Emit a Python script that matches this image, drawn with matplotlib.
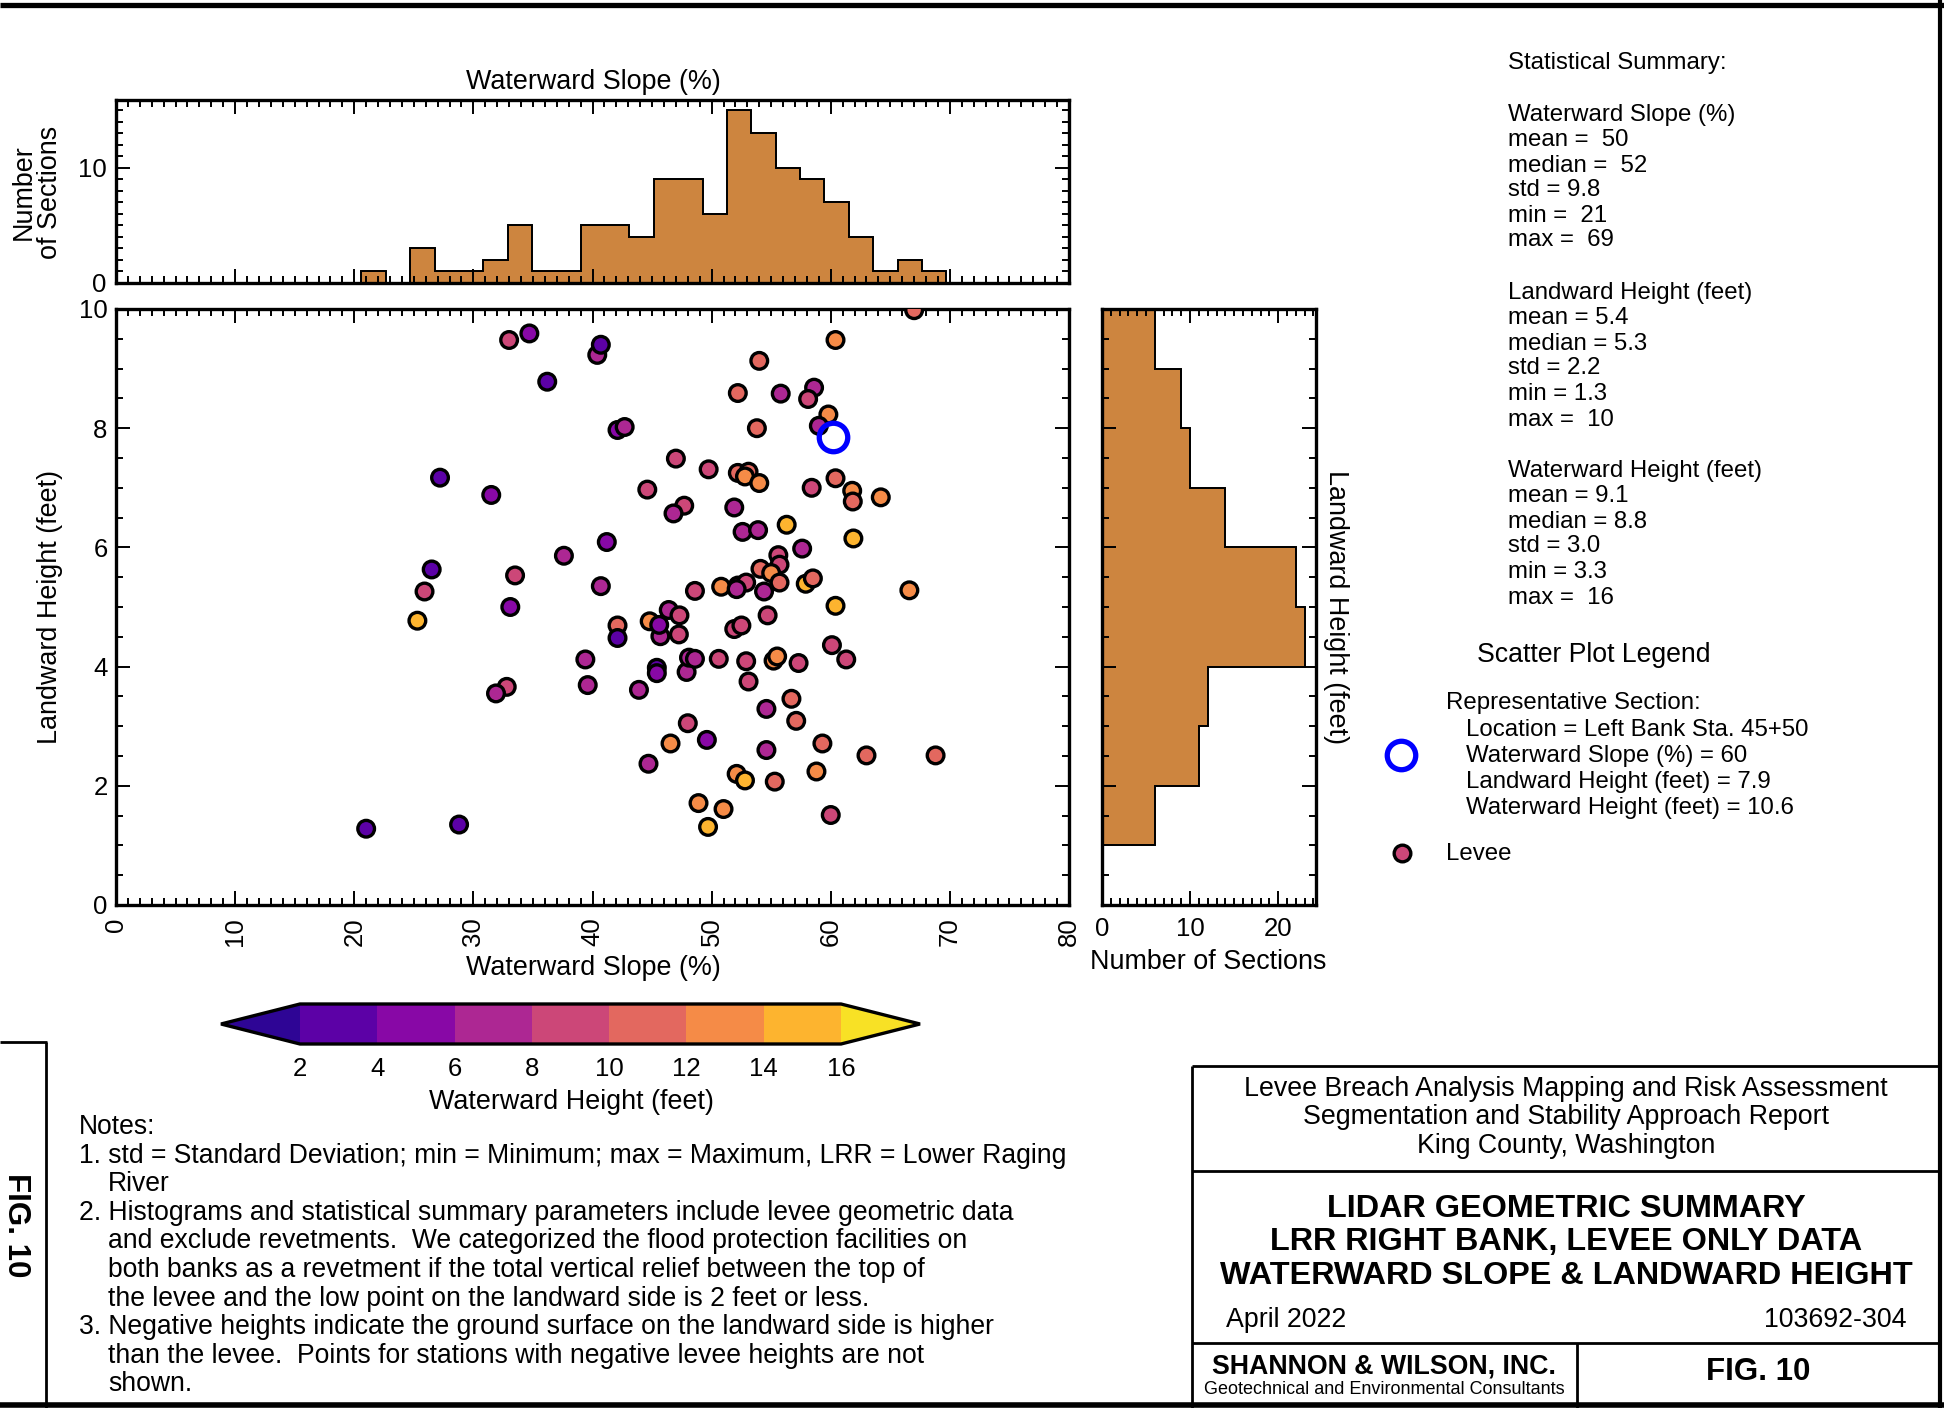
import numpy as np
import matplotlib
matplotlib.use("Agg")
import matplotlib.pyplot as plt
from matplotlib.colors import ListedColormap, BoundaryNorm
from matplotlib.ticker import MultipleLocator

plt.rcParams['font.family'] = ['Liberation Sans', 'DejaVu Sans']

# ---- scatter data: waterward slope (%), landward height (ft), waterward height (ft)
slope = [33.0, 34.7, 40.4, 40.7, 36.2, 42.1, 42.7, 27.2, 31.5, 44.6,
         41.2, 37.6, 26.5, 33.5, 25.9, 40.7, 33.1, 25.3, 42.1, 42.1,
         44.8, 39.4, 32.8, 31.9, 39.6, 43.9, 44.7, 21.0, 28.8, 67.0,
         60.4, 54.0, 52.2, 55.8, 58.6, 58.1, 59.8, 59.0, 53.8, 47.0,
         49.75, 52.2, 53.1, 52.8, 54.0, 60.4, 58.4, 61.8, 61.85, 64.2,
         47.7, 46.8, 51.9, 56.3, 52.6, 53.9, 61.9, 57.6, 55.6, 55.7,
         54.1, 55.0, 48.6, 50.8, 52.2, 52.9, 52.1, 54.4, 55.7, 57.9,
         58.5, 66.6, 60.4, 54.7, 46.4, 47.3, 45.7, 47.25, 45.6, 51.9,
         52.5, 60.1, 61.3, 45.4, 45.4, 47.9, 48.1, 48.6, 50.6, 52.9,
         53.1, 55.2, 55.5, 57.3, 54.6, 56.7, 57.1, 48.0, 49.6, 46.55,
         54.6, 59.3, 63.0, 68.8, 52.1, 52.8, 55.3, 58.8, 48.9, 51.0,
         49.7, 60.0]
land_height = [9.48, 9.59, 9.23, 9.40, 8.78, 7.97, 8.02, 7.17, 6.88, 6.97,
               6.09, 5.86, 5.63, 5.53, 5.26, 5.35, 5.00, 4.77, 4.69, 4.48,
               4.76, 4.12, 3.66, 3.55, 3.69, 3.61, 2.37, 1.28, 1.35, 9.98,
               9.48, 9.13, 8.59, 8.58, 8.68, 8.49, 8.23, 8.04, 8.00, 7.49,
               7.31, 7.25, 7.27, 7.19, 7.08, 7.16, 7.00, 6.95, 6.77, 6.84,
               6.70, 6.57, 6.67, 6.38, 6.26, 6.29, 6.15, 5.98, 5.87, 5.71,
               5.64, 5.57, 5.27, 5.34, 5.36, 5.41, 5.30, 5.26, 5.41, 5.39,
               5.48, 5.28, 5.02, 4.86, 4.95, 4.86, 4.51, 4.54, 4.70, 4.63,
               4.69, 4.36, 4.12, 3.98, 3.89, 3.91, 4.15, 4.13, 4.13, 4.09,
               3.75, 4.10, 4.17, 4.06, 3.29, 3.46, 3.09, 3.05, 2.77, 2.71,
               2.60, 2.71, 2.51, 2.51, 2.20, 2.09, 2.07, 2.24, 1.71, 1.61,
               1.31, 1.51]
water_height = [9, 5, 7, 3, 3, 5, 7, 3, 5, 9,
                5, 7, 3, 9, 9, 7, 5, 15, 11, 3,
                13, 7, 9, 7, 7, 7, 7, 3, 3, 11,
                13, 11, 11, 7, 7, 9, 13, 7, 11, 9,
                9, 11, 11, 13, 13, 11, 9, 13, 11, 13,
                9, 7, 7, 15, 7, 7, 15, 7, 9, 9,
                11, 13, 9, 13, 7, 9, 7, 7, 11, 15,
                11, 13, 15, 9, 7, 9, 7, 9, 5, 9,
                9, 9, 9, 3, 5, 7, 7, 7, 9, 9,
                9, 13, 13, 9, 7, 11, 11, 9, 5, 13,
                7, 11, 11, 11, 13, 15, 11, 13, 13, 13,
                15, 9]

# representative section
rep_slope = 60.2
rep_land = 7.86

# histograms
slope_counts = [1, 0, 3, 1, 1, 2, 5, 1, 1, 5, 5, 4, 9, 9, 6, 15, 13, 10, 9, 7, 4, 1, 2, 1]
slope_bin_lo, slope_bin_hi = 20.6, 69.7
land_counts = [6, 11, 12, 23, 22, 14, 10, 9, 6]
land_edges = [1, 2, 3, 4, 5, 6, 7, 8, 9, 10]

cbar_levels = [2, 4, 6, 8, 10, 12, 14, 16]

stats_lines = [
    ("Statistical Summary:", 60),
    ("Waterward Slope (%)", 112), ("mean =  50", 138), ("median =  52", 164),
    ("std = 9.8", 188), ("min =  21", 214), ("max =  69", 238),
    ("Landward Height (feet)", 290), ("mean = 5.4", 316), ("median = 5.3", 341),
    ("std = 2.2", 366), ("min = 1.3", 391), ("max =  10", 417),
    ("Waterward Height (feet)", 468), ("mean = 9.1", 494), ("median = 8.8", 520),
    ("std = 3.0", 544), ("min = 3.3", 569), ("max =  16", 595),
]

notes_lines = [
    (79, "Notes:"),
    (79, "1. std = Standard Deviation; min = Minimum; max = Maximum, LRR = Lower Raging"),
    (108, "River"),
    (79, "2. Histograms and statistical summary parameters include levee geometric data"),
    (108, "and exclude revetments.  We categorized the flood protection facilities on"),
    (108, "both banks as a revetment if the total vertical relief between the top of"),
    (108, "the levee and the low point on the landward side is 2 feet or less."),
    (79, "3. Negative heights indicate the ground surface on the landward side is higher"),
    (108, "than the levee.  Points for stations with negative levee heights are not"),
    (108, "shown."),
]

W, H = 1944, 1408
fig = plt.figure(figsize=(W / 100, H / 100), dpi=100)

TICK_FS = 18.5
LABEL_FS = 19.4
STAT_FS = 17.3
BAR_COLOR = 'peru'

pal = plt.get_cmap('plasma')((np.arange(9) + 0.5) / 9)
cmap = ListedColormap(pal[1:8])
cmap.set_under(pal[0])
cmap.set_over(pal[8])
norm = BoundaryNorm(cbar_levels, cmap.N)


def px_axes(x0, y0, x1, y1):
    return fig.add_axes([x0 / W, 1 - y1 / H, (x1 - x0) / W, (y1 - y0) / H])


def style(ax):
    ax.tick_params(which='both', direction='in', top=True, right=True,
                   width=1.4, labelsize=TICK_FS, colors='black')
    ax.tick_params(which='major', length=10)
    ax.tick_params(which='minor', length=5)
    for s in ax.spines.values():
        s.set_linewidth(2.4)


# ---- scatter
ax = px_axes(116, 309, 1069, 905)
sc = ax.scatter(slope, land_height, c=water_height, cmap=cmap, norm=norm,
                s=144, edgecolors='black', linewidths=2.4, zorder=3)
ax.plot(rep_slope, rep_land, 'o', ms=20.5, mfc='none', mec='blue', mew=3.8, zorder=4)
ax.set_xlim(0, 80)
ax.set_ylim(0, 10)
ax.xaxis.set_major_locator(MultipleLocator(10))
ax.xaxis.set_minor_locator(MultipleLocator(1))
ax.yaxis.set_major_locator(MultipleLocator(2))
ax.yaxis.set_minor_locator(MultipleLocator(0.5))
style(ax)
ax.tick_params(axis='x', labelrotation=90, pad=9)
ax.tick_params(axis='y', pad=6)

# ---- top histogram
axt = px_axes(116, 100, 1069, 283)
slope_edges = np.linspace(slope_bin_lo, slope_bin_hi, len(slope_counts) + 1)
axt.stairs(slope_counts, slope_edges, fill=True, facecolor=BAR_COLOR,
           edgecolor='black', linewidth=1.3)
axt.stairs(slope_counts, slope_edges, color='black', linewidth=1.3)
axt.set_xlim(0, 80)
axt.set_ylim(0, max(slope_counts) * 1.06)
axt.xaxis.set_major_locator(MultipleLocator(10))
axt.xaxis.set_minor_locator(MultipleLocator(1))
axt.yaxis.set_major_locator(MultipleLocator(10))
axt.yaxis.set_minor_locator(MultipleLocator(1))
style(axt)
axt.tick_params(axis='x', labelbottom=False)
axt.tick_params(axis='y', pad=7)

# ---- right histogram
axr = px_axes(1102, 309, 1316, 905)
axr.stairs(land_counts, land_edges, orientation='horizontal', fill=True,
           facecolor=BAR_COLOR, edgecolor='black', linewidth=1.3)
axr.stairs(land_counts, land_edges, orientation='horizontal', color='black', linewidth=1.3)
axr.set_ylim(0, 10)
axr.set_xlim(0, max(land_counts) * 1.056)
axr.xaxis.set_major_locator(MultipleLocator(10))
axr.xaxis.set_minor_locator(MultipleLocator(1))
axr.yaxis.set_major_locator(MultipleLocator(2))
axr.yaxis.set_minor_locator(MultipleLocator(0.5))
style(axr)
axr.tick_params(axis='y', labelleft=False)
axr.tick_params(axis='x', pad=9)

# ---- colorbar (box includes the triangular extensions)
cax = px_axes(221, 1004, 920, 1044)
cb = fig.colorbar(sc, cax=cax, orientation='horizontal', extend='both',
                  extendfrac=0.146, ticks=cbar_levels)
cb.outline.set_linewidth(2.4)
cax.tick_params(length=0, labelsize=TICK_FS, pad=9)

# ---- overlay for labels, text panels and frame
ov = fig.add_axes([0, 0, 1, 1], zorder=10)
ov.set_xlim(0, W)
ov.set_ylim(H, 0)
ov.axis('off')

ov.text(593, 82, "Waterward Slope (%)", fontsize=LABEL_FS, ha='center', va='center')
ov.text(37, 192, "Number\nof Sections", fontsize=LABEL_FS, rotation=90,
        ha='center', va='center', multialignment='center', linespacing=1.0)
ov.text(50, 607, "Landward Height (feet)", fontsize=LABEL_FS, rotation=90,
        ha='center', va='center')
ov.text(593, 968, "Waterward Slope (%)", fontsize=LABEL_FS, ha='center', va='center')
ov.text(1208, 962, "Number of Sections", fontsize=LABEL_FS, ha='center', va='center')
ov.text(1336, 607, "Landward Height (feet)", fontsize=LABEL_FS, rotation=270,
        ha='center', va='center')
ov.text(571, 1102, "Waterward Height (feet)", fontsize=LABEL_FS, ha='center', va='center')

# statistical summary
for txt, yc in stats_lines:
    ov.text(1508, yc + 8.5, txt, fontsize=STAT_FS, ha='left', va='baseline')

# scatter legend
ov.text(1477, 662, "Scatter Plot Legend", fontsize=19.2, ha='left', va='baseline')
ov.text(1446, 709.5, "Representative Section:", fontsize=STAT_FS, ha='left', va='baseline')
rep_lines = ["Location = Left Bank Sta. 45+50", "Waterward Slope (%) = 60",
             "Landward Height (feet) = 7.9", "Waterward Height (feet) = 10.6"]
for i, txt in enumerate(rep_lines):
    ov.text(1466, 736.5 + i * 25.7, txt, fontsize=STAT_FS, ha='left', va='baseline')
ov.plot(1401, 755, 'o', ms=20.5, mfc='none', mec='blue', mew=3.8)
ov.plot(1402, 853, 'o', ms=12, mfc=cmap(norm(9)), mec='black', mew=2.4)
ov.text(1446, 859.5, "Levee", fontsize=STAT_FS, ha='left', va='baseline')

# notes
for i, (x, txt) in enumerate(notes_lines):
    ov.text(x, 1134 + i * 28.6, txt, fontsize=19.1, ha='left', va='baseline')

# frame lines
def hline(y, x0, x1, lw):
    ov.plot([x0, x1], [y, y], color='black', lw=lw, solid_capstyle='butt')


def vline(x, y0, y1, lw):
    ov.plot([x, x], [y0, y1], color='black', lw=lw, solid_capstyle='butt')


hline(5, 0, W, 3.8)
hline(1405, 0, W, 4.0)
vline(1940, 0, H, 3.0)
hline(1042, 0, 47, 2.0)
vline(46, 1042, H, 2.0)
hline(1066, 1192, 1941, 2.0)
vline(1192, 1066, H, 2.0)
hline(1171, 1192, 1941, 2.0)
hline(1343, 1192, 1941, 2.0)
vline(1577, 1343, H, 2.0)

ov.text(16, 1225, "FIG. 10", fontsize=22.5, fontweight='bold', rotation=270,
        ha='center', va='center')

# title block
tb_cx = 1566
for txt, yc in [("Levee Breach Analysis Mapping and Risk Assessment", 1089),
                ("Segmentation and Stability Approach Report", 1117),
                ("King County, Washington", 1146)]:
    ov.text(tb_cx, yc, txt, fontsize=19.3, ha='center', va='center')
for txt, yc in [("LIDAR GEOMETRIC SUMMARY", 1209),
                ("LRR RIGHT BANK, LEVEE ONLY DATA", 1242),
                ("WATERWARD SLOPE & LANDWARD HEIGHT", 1276)]:
    ov.text(tb_cx, yc, txt, fontsize=23.3, fontweight='bold', ha='center', va='center')
ov.text(1226, 1320, "April 2022", fontsize=19.3, ha='left', va='center')
ov.text(1906, 1320, "103692-304", fontsize=19.3, ha='right', va='center')
ov.text(1384, 1367, "SHANNON & WILSON, INC.", fontsize=19.3, fontweight='bold',
        ha='center', va='center')
ov.text(1384, 1389, "Geotechnical and Environmental Consultants", fontsize=13,
        ha='center', va='center')
ov.text(1758, 1372, "FIG. 10", fontsize=22.5, fontweight='bold', ha='center', va='center')

fig.savefig("out.png", dpi=100)
